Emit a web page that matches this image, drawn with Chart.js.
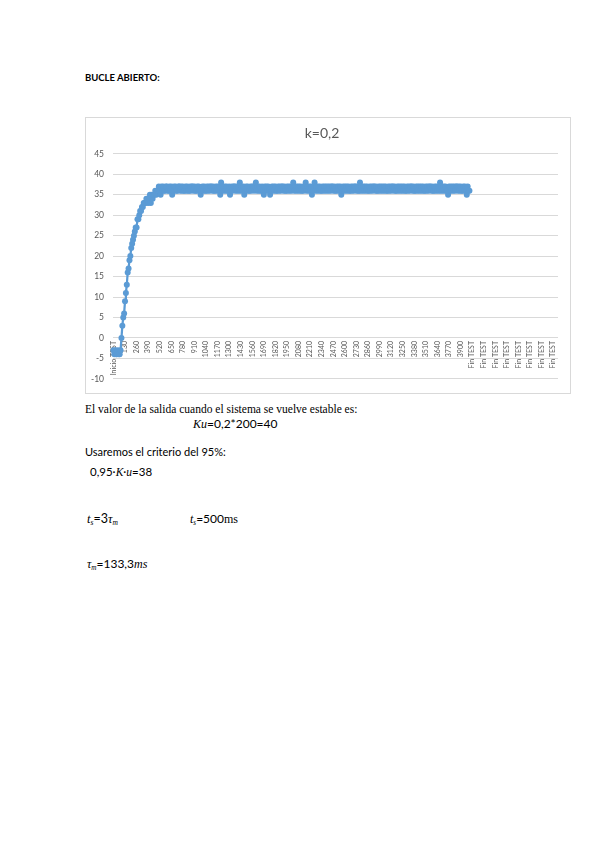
<!DOCTYPE html>
<html>
<head>
<meta charset="utf-8">
<script src="https://cdn.jsdelivr.net/npm/chart.js@4"></script>
<style>
  html, body { margin: 0; padding: 0; background: #fff; }
  body { width: 599px; height: 848px; position: relative; overflow: hidden; }
  .t { position: absolute; white-space: nowrap; color: #000; line-height: 1; }
  .sans { font-family: Lato, "Liberation Sans", sans-serif; }
  .serif { font-family: "Liberation Serif", serif; }
  .it { font-style: italic; font-family: "Liberation Serif", serif; }
  sub { font-size: 60%; vertical-align: -2px; }
  #box { position: absolute; left: 85px; top: 117px; width: 484px; height: 275px; border: 1px solid #d9d9d9; }
  #wrap { position: absolute; left: 0; top: 0; width: 484px; height: 275px; }
</style>
</head>
<body>
<div class="t sans" style="left:85px; top:73px; font-size:9.5px; font-weight:bold;">BUCLE ABIERTO:</div>

<div id="box"><div id="wrap"><canvas id="chart"></canvas></div></div>

<div class="t serif" style="left:85px; top:404px; font-size:11.5px;">El valor de la salida cuando el sistema se vuelve estable es:</div>
<div class="t sans" style="left:193px; top:418px; font-size:12px;"><span class="it">Ku</span>=0,2*200=40</div>
<div class="t sans" style="left:85px; top:446px; font-size:11px;">Usaremos el criterio del 95%:</div>
<div class="t sans" style="left:90px; top:466px; font-size:11.5px;">0,95·<span class="it">K</span>·<span class="it">u</span>=38</div>
<div class="t sans" style="left:87px; top:513px; font-size:12.5px;"><span class="it">t<sub>s</sub></span>=3<span class="it">τ<sub>m</sub></span></div>
<div class="t sans" style="left:190px; top:513px; font-size:12px;"><span class="it">t<sub>s</sub></span>=500<span class="serif">ms</span></div>
<div class="t sans" style="left:87px; top:558px; font-size:12px;"><span class="it">τ<sub>m</sub></span>=133,3<span class="it">ms</span></div>

<script>
// sampling every 10 ms, a label shown every 13 samples (130 ms)
const startLabel = 'Inicio TEST';
const endLabel = 'Fin TEST';
const stepMs = 10;
const lastTimeMs = 4000;
const totalCategories = 500;
const labelEvery = 13;

const yTicks = { min: -10, max: 45, step: 5 };

// measured output, one value per 10 ms sample (index 0 = Inicio TEST)
const output = [
  -3,-4,-3,-4,-4,-3,-4,-4,-3, 0, 3, 5, 6, 9,11,13,16,17,19,20,
  22,23,24,25,26,27,27,29,29,30,31,31,32,32,33,33,33,34,34,33,
  34,35,33,35,34,35,35,36,35,36,36,37,36,35,37,36,37,36,36,37,
  37,36,36,37,36,37,35,36,37,36,37,36,36,37,37,36,37,36,37,36,
  36,37,36,37,36,36,37,36,37,37,36,37,36,36,37,36,37,36,35,36,
  37,36,37,36,36,37,36,37,36,37,37,36,37,36,36,37,36,37,36,37,
  35,38,36,37,36,37,36,37,36,36,37,35,36,37,36,37,37,36,37,36,
  37,36,38,36,37,36,37,35,36,37,36,37,36,36,37,36,37,37,36,37,
  38,36,37,36,37,36,36,37,36,35,37,36,37,36,37,36,35,36,37,36,
  37,36,37,36,36,37,36,37,36,37,37,36,37,36,36,37,36,37,36,37,
  36,37,38,36,37,36,37,36,37,36,37,36,36,37,36,37,38,36,37,36,
  37,36,37,35,36,37,38,36,37,36,37,36,37,36,36,37,36,37,36,37,
  36,37,36,37,36,37,37,36,37,36,36,37,36,37,36,37,35,36,37,36,
  37,36,37,36,37,36,36,37,36,37,36,37,37,36,37,36,36,38,36,37,
  36,37,36,37,36,37,36,36,37,36,37,36,37,37,36,37,36,36,37,36,
  37,36,37,36,37,36,37,36,36,37,36,37,36,37,37,36,37,36,36,37,
  36,37,36,37,36,37,36,37,36,36,37,36,37,36,37,37,36,37,36,36,
  37,36,37,36,37,36,37,36,37,36,36,37,36,37,36,37,37,36,37,36,
  36,37,36,37,36,37,36,38,36,37,36,37,36,37,36,36,35,37,36,37,
  36,37,36,37,36,37,37,36,37,36,37,36,36,37,36,37,36,35,37,36,
  36
];

const categories = [startLabel];
for (let t = stepMs; t <= lastTimeMs; t += stepMs) categories.push(String(t));
while (categories.length < totalCategories) categories.push(endLabel);

const blue = '#5B9BD5';
const grey = '#595959';

new Chart(document.getElementById('chart'), {
  type: 'line',
  data: {
    labels: categories,
    datasets: [{
      data: output,
      borderColor: blue,
      backgroundColor: blue,
      borderWidth: 2.25,
      borderJoinStyle: 'round',
      borderCapStyle: 'round',
      pointRadius: 3,
      pointBorderWidth: 0,
      pointHoverRadius: 3,
      tension: 0
    }]
  },
  options: {
    responsive: true,
    maintainAspectRatio: false,
    animation: false,
    events: [],
    layout: { padding: { left: 0, right: 12, top: 0, bottom: 11 } },
    plugins: {
      legend: { display: false },
      tooltip: { enabled: false },
      title: {
        display: true,
        text: 'k=0,2',
        color: grey,
        font: { family: 'Lato', size: 14, weight: 'normal' },
        padding: { top: 7, bottom: 12 }
      }
    },
    scales: {
      x: {
        type: 'category',
        position: { y: 0 },
        offset: true,
        grid: { display: false, drawTicks: false },
        border: { display: false },
        ticks: {
          autoSkip: false,
          maxRotation: 90,
          minRotation: 90,
          padding: 3,
          color: grey,
          font: { family: 'Lato', size: 7 },
          callback: function (val, i) {
            return i % labelEvery === 0 ? categories[i] : null;
          }
        }
      },
      y: {
        min: yTicks.min,
        max: yTicks.max,
        grid: { color: '#d9d9d9', drawTicks: false },
        border: { display: false },
        ticks: {
          stepSize: yTicks.step,
          padding: 9,
          color: grey,
          font: { family: 'Lato', size: 8.5 }
        },
        afterFit: function (scale) { scale.width = 27; }
      }
    }
  }
});
</script>
</body>
</html>
